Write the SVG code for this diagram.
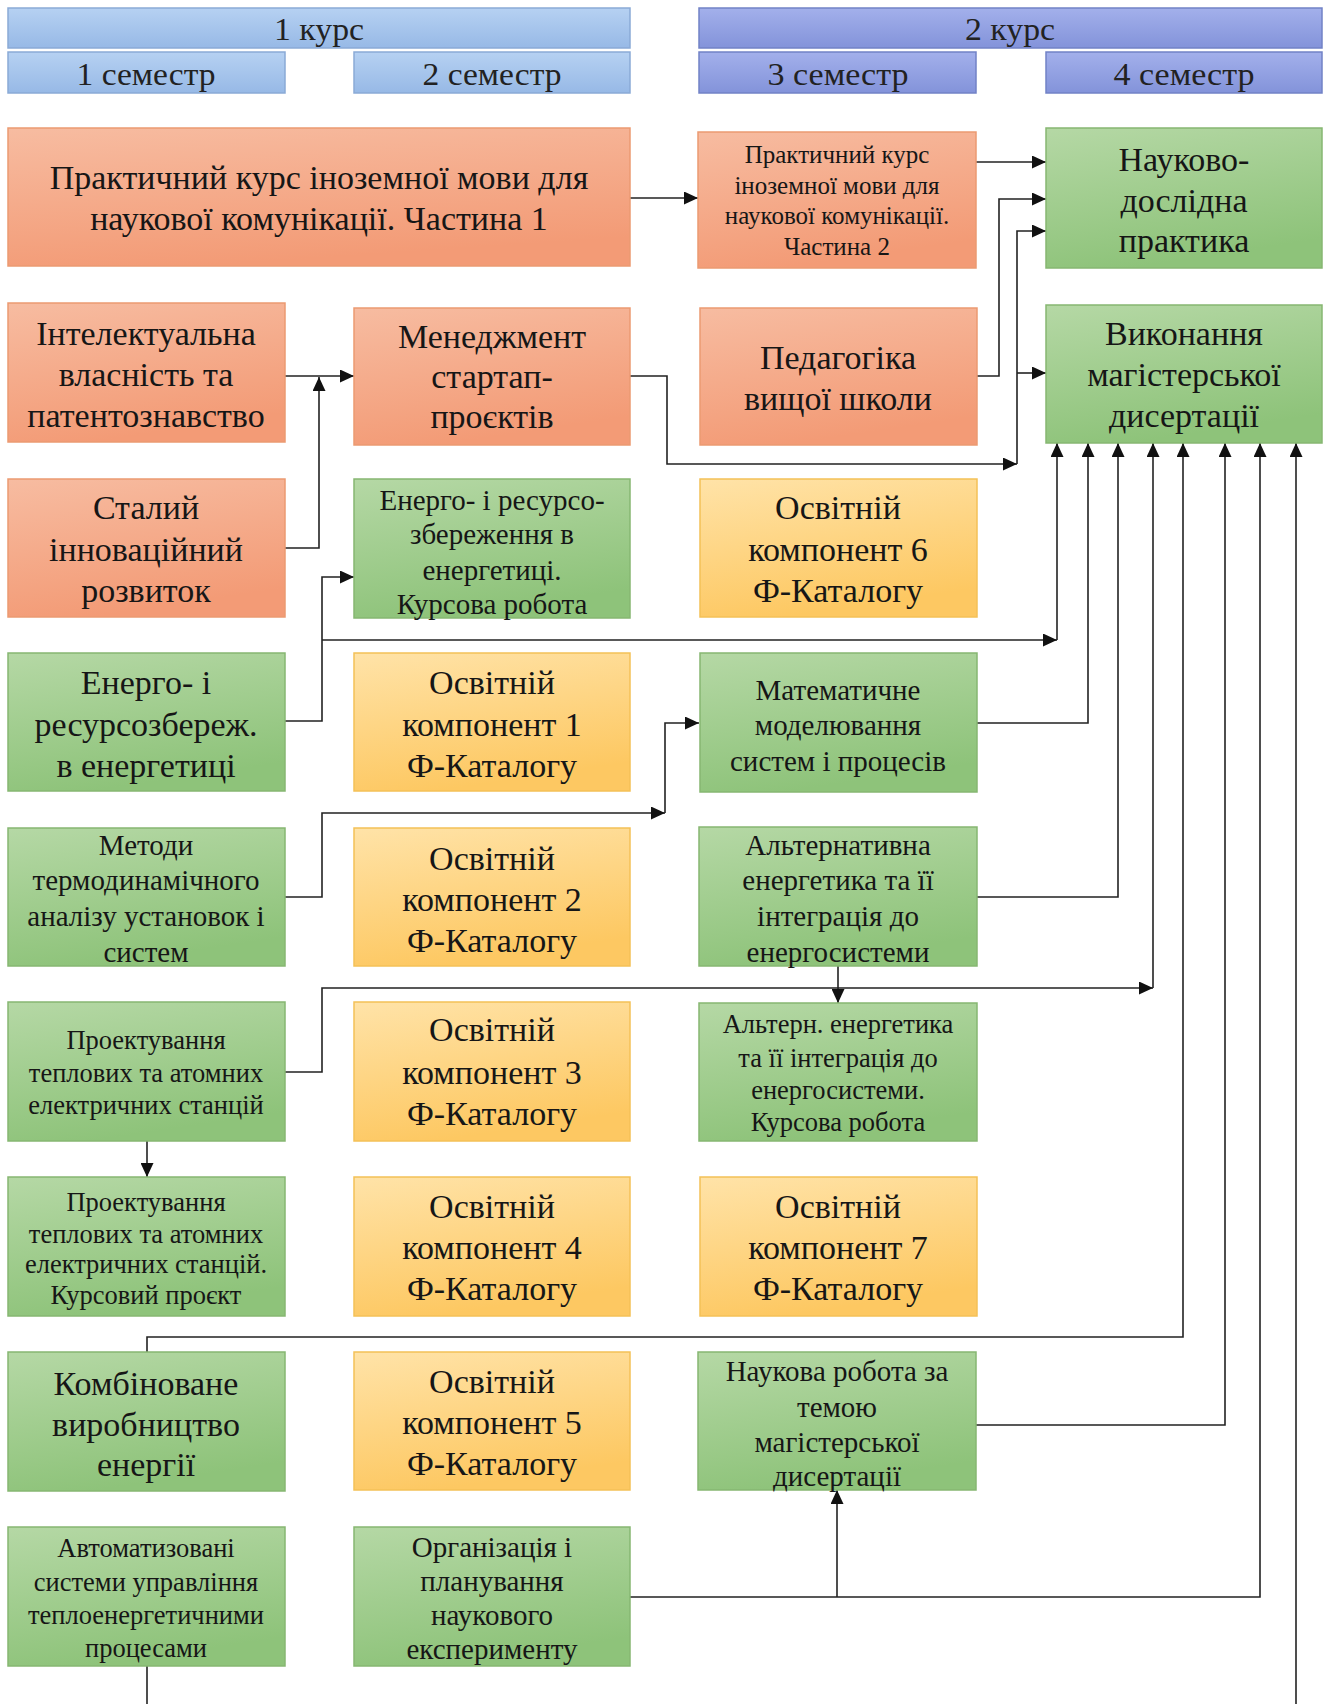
<svg xmlns="http://www.w3.org/2000/svg" width="1325" height="1704" viewBox="0 0 1325 1704">
<defs>
<linearGradient id="gH1" x1="0" y1="0" x2="0" y2="1"><stop offset="0" stop-color="#b6d1f2"/><stop offset="1" stop-color="#97b9e6"/></linearGradient>
<linearGradient id="gH2" x1="0" y1="0" x2="0" y2="1"><stop offset="0" stop-color="#a3b0eb"/><stop offset="1" stop-color="#8393da"/></linearGradient>
<linearGradient id="gO" x1="0" y1="0" x2="0.3" y2="1"><stop offset="0" stop-color="#f7bca1"/><stop offset="1" stop-color="#f39b76"/></linearGradient>
<linearGradient id="gG" x1="0" y1="0" x2="0.3" y2="1"><stop offset="0" stop-color="#b5d8a5"/><stop offset="1" stop-color="#8ec37a"/></linearGradient>
<linearGradient id="gY" x1="0" y1="0" x2="0.3" y2="1"><stop offset="0" stop-color="#ffe3a8"/><stop offset="1" stop-color="#fdc862"/></linearGradient>
<marker id="ar" markerUnits="userSpaceOnUse" markerWidth="15" markerHeight="13" refX="14" refY="6.5" orient="auto"><path d="M0,0 L14,6.5 L0,13 z" fill="#111"/></marker>
</defs>
<style>
.h1{fill:url(#gH1);stroke:#8aaad6;stroke-width:1.5}
.h2{fill:url(#gH2);stroke:#7282c6;stroke-width:1.5}
.o{fill:url(#gO);stroke:#eb9a72;stroke-width:1.5}
.g{fill:url(#gG);stroke:#86b772;stroke-width:1.5}
.y{fill:url(#gY);stroke:#f4c157;stroke-width:1.5}
text{font-family:"Liberation Serif","Times New Roman",serif;fill:#161616;text-anchor:middle}
.t34{font-size:34px}
.t29{font-size:29px}
.t26{font-size:26.5px}
.t25{font-size:25px}
.th{font-size:32px;fill:#222}
.c{fill:none;stroke:#222;stroke-width:1.6}
.ca{fill:none;stroke:#222;stroke-width:1.6;marker-end:url(#ar)}
</style>
<rect width="1325" height="1704" fill="#ffffff"/>

<g id="hdr-k1"><rect class="h1" x="8" y="8" width="622" height="40"/><text class="th" x="319" y="40" textLength="90" lengthAdjust="spacingAndGlyphs">1 курс</text></g>
<g id="hdr-k2"><rect class="h2" x="699" y="8" width="623" height="40"/><text class="th" x="1010" y="40" textLength="90" lengthAdjust="spacingAndGlyphs">2 курс</text></g>
<g id="hdr-s1"><rect class="h1" x="8" y="52" width="277" height="41"/><text class="th" x="146" y="85" textLength="139" lengthAdjust="spacingAndGlyphs">1 семестр</text></g>
<g id="hdr-s2"><rect class="h1" x="354" y="52" width="276" height="41"/><text class="th" x="492" y="85" textLength="139" lengthAdjust="spacingAndGlyphs">2 семестр</text></g>
<g id="hdr-s3"><rect class="h2" x="699" y="52" width="277" height="41"/><text class="th" x="838" y="85" textLength="141" lengthAdjust="spacingAndGlyphs">3 семестр</text></g>
<g id="hdr-s4"><rect class="h2" x="1046" y="52" width="276" height="41"/><text class="th" x="1184" y="85" textLength="141" lengthAdjust="spacingAndGlyphs">4 семестр</text></g>

<g id="connectors">
<path class="ca" d="M630,198 H698"/>
<path class="ca" d="M976,162 H1046"/>
<path class="ca" d="M977,376 H999 V199 H1046"/>
<path class="ca" d="M630,376 H667 V464 H1017"/>
<path class="ca" d="M1017,464 V231 H1046"/>
<path class="ca" d="M1017,373 H1046"/>
<path class="ca" d="M285,376 H354"/>
<path class="ca" d="M285,548 H319 V377"/>
<path class="ca" d="M285,721 H322 V577 H354"/>
<path class="ca" d="M322,640 H1057"/>
<path class="ca" d="M1057,640 V443"/>
<path class="ca" d="M977,723 H1088 V443"/>
<path class="ca" d="M285,897 H322 V813 H665"/>
<path class="ca" d="M665,813 V723 H699"/>
<path class="ca" d="M977,897 H1118 V443"/>
<path class="ca" d="M838,966 V1003"/>
<path class="ca" d="M285,1072 H322 V988 H1153"/>
<path class="ca" d="M1153,988 V443"/>
<path class="ca" d="M147,1141 V1177"/>
<path class="ca" d="M147,1352 V1337 H1183 V443"/>
<path class="ca" d="M976,1425 H1225 V443"/>
<path class="ca" d="M630,1597 H1260 V443"/>
<path class="ca" d="M837,1597 V1490"/>
<path class="c" d="M147,1666 V1704"/>
<path class="ca" d="M1296,1704 V443"/>
</g>

<g id="n-inoz1"><rect class="o" x="8" y="128" width="622" height="138"/><text class="t34" x="319" y="189">Практичний курс іноземної мови для</text><text class="t34" x="319" y="230">наукової комунікації. Частина 1</text></g>
<g id="n-inoz2"><rect class="o" x="698" y="132" width="278" height="136"/><text class="t25" x="837" y="163">Практичний курс</text><text class="t25" x="837" y="194">іноземної мови для</text><text class="t25" x="837" y="224">наукової комунікації.</text><text class="t25" x="837" y="255">Частина 2</text></g>
<g id="n-npr"><rect class="g" x="1046" y="128" width="276" height="140"/><text class="t34" x="1184" y="171">Науково-</text><text class="t34" x="1184" y="212">дослідна</text><text class="t34" x="1184" y="252">практика</text></g>

<g id="n-intel"><rect class="o" x="8" y="303" width="277" height="139"/><text class="t34" x="146" y="345">Інтелектуальна</text><text class="t34" x="146" y="386">власність та</text><text class="t34" x="146" y="427">патентознавство</text></g>
<g id="n-menedzh"><rect class="o" x="354" y="308" width="276" height="137"/><text class="t34" x="492" y="348">Менеджмент</text><text class="t34" x="492" y="388">стартап-</text><text class="t34" x="492" y="428">проєктів</text></g>
<g id="n-ped"><rect class="o" x="700" y="308" width="277" height="137"/><text class="t34" x="838" y="369">Педагогіка</text><text class="t34" x="838" y="410">вищої школи</text></g>
<g id="n-dys"><rect class="g" x="1046" y="305" width="276" height="138"/><text class="t34" x="1184" y="345">Виконання</text><text class="t34" x="1184" y="386">магістерської</text><text class="t34" x="1184" y="427">дисертації</text></g>

<g id="n-stalyi"><rect class="o" x="8" y="479" width="277" height="138"/><text class="t34" x="146" y="519">Сталий</text><text class="t34" x="146" y="561">інноваційний</text><text class="t34" x="146" y="602">розвиток</text></g>
<g id="n-erz-kr"><rect class="g" x="354" y="479" width="276" height="139"/><text class="t29" x="492" y="510">Енерго- і ресурсо-</text><text class="t29" x="492" y="544">збереження в</text><text class="t29" x="492" y="580">енергетиці.</text><text class="t29" x="492" y="614">Курсова робота</text></g>
<g id="n-ok6"><rect class="y" x="700" y="479" width="277" height="138"/><text class="t34" x="838" y="519">Освітній</text><text class="t34" x="838" y="561">компонент 6</text><text class="t34" x="838" y="602">Ф-Каталогу</text></g>

<g id="n-erz"><rect class="g" x="8" y="653" width="277" height="138"/><text class="t34" x="146" y="694">Енерго- і</text><text class="t34" x="146" y="736">ресурсозбереж.</text><text class="t34" x="146" y="777">в енергетиці</text></g>
<g id="n-ok1"><rect class="y" x="354" y="653" width="276" height="138"/><text class="t34" x="492" y="694">Освітній</text><text class="t34" x="492" y="736">компонент 1</text><text class="t34" x="492" y="777">Ф-Каталогу</text></g>
<g id="n-mat"><rect class="g" x="700" y="653" width="277" height="139"/><text class="t29" x="838" y="700">Математичне</text><text class="t29" x="838" y="735">моделювання</text><text class="t29" x="838" y="771">систем і процесів</text></g>

<g id="n-term"><rect class="g" x="8" y="828" width="277" height="138"/><text class="t29" x="146" y="855">Методи</text><text class="t29" x="146" y="890">термодинамічного</text><text class="t29" x="146" y="926">аналізу установок і</text><text class="t29" x="146" y="962">систем</text></g>
<g id="n-ok2"><rect class="y" x="354" y="828" width="276" height="138"/><text class="t34" x="492" y="870">Освітній</text><text class="t34" x="492" y="911">компонент 2</text><text class="t34" x="492" y="952">Ф-Каталогу</text></g>
<g id="n-alt"><rect class="g" x="699" y="827" width="278" height="139"/><text class="t29" x="838" y="855">Альтернативна</text><text class="t29" x="838" y="890">енергетика та її</text><text class="t29" x="838" y="926">інтеграція до</text><text class="t29" x="838" y="962">енергосистеми</text></g>

<g id="n-proekt"><rect class="g" x="8" y="1002" width="277" height="139"/><text class="t26" x="146" y="1049">Проектування</text><text class="t26" x="146" y="1082">теплових та атомних</text><text class="t26" x="146" y="1114">електричних станцій</text></g>
<g id="n-ok3"><rect class="y" x="354" y="1002" width="276" height="139"/><text class="t34" x="492" y="1041">Освітній</text><text class="t34" x="492" y="1084">компонент 3</text><text class="t34" x="492" y="1125">Ф-Каталогу</text></g>
<g id="n-alt-kr"><rect class="g" x="699" y="1003" width="278" height="138"/><text class="t26" x="838" y="1033">Альтерн. енергетика</text><text class="t26" x="838" y="1067">та її інтеграція до</text><text class="t26" x="838" y="1099">енергосистеми.</text><text class="t26" x="838" y="1131">Курсова робота</text></g>

<g id="n-proekt-kp"><rect class="g" x="8" y="1177" width="277" height="139"/><text class="t26" x="146" y="1211">Проектування</text><text class="t26" x="146" y="1243">теплових та атомних</text><text class="t26" x="146" y="1273">електричних станцій.</text><text class="t26" x="146" y="1304">Курсовий проєкт</text></g>
<g id="n-ok4"><rect class="y" x="354" y="1177" width="276" height="139"/><text class="t34" x="492" y="1218">Освітній</text><text class="t34" x="492" y="1259">компонент 4</text><text class="t34" x="492" y="1300">Ф-Каталогу</text></g>
<g id="n-ok7"><rect class="y" x="700" y="1177" width="277" height="139"/><text class="t34" x="838" y="1218">Освітній</text><text class="t34" x="838" y="1259">компонент 7</text><text class="t34" x="838" y="1300">Ф-Каталогу</text></g>

<g id="n-komb"><rect class="g" x="8" y="1352" width="277" height="139"/><text class="t34" x="146" y="1395">Комбіноване</text><text class="t34" x="146" y="1436">виробництво</text><text class="t34" x="146" y="1476">енергії</text></g>
<g id="n-ok5"><rect class="y" x="354" y="1352" width="276" height="138"/><text class="t34" x="492" y="1393">Освітній</text><text class="t34" x="492" y="1434">компонент 5</text><text class="t34" x="492" y="1475">Ф-Каталогу</text></g>
<g id="n-nauk"><rect class="g" x="698" y="1352" width="278" height="138"/><text class="t29" x="837" y="1381">Наукова робота за</text><text class="t29" x="837" y="1417">темою</text><text class="t29" x="837" y="1452">магістерської</text><text class="t29" x="837" y="1486">дисертації</text></g>

<g id="n-asu"><rect class="g" x="8" y="1527" width="277" height="139"/><text class="t26" x="146" y="1557">Автоматизовані</text><text class="t26" x="146" y="1591">системи управління</text><text class="t26" x="146" y="1624">теплоенергетичними</text><text class="t26" x="146" y="1657">процесами</text></g>
<g id="n-org"><rect class="g" x="354" y="1527" width="276" height="139"/><text class="t29" x="492" y="1557">Організація і</text><text class="t29" x="492" y="1591">планування</text><text class="t29" x="492" y="1625">наукового</text><text class="t29" x="492" y="1659">експерименту</text></g>
</svg>
